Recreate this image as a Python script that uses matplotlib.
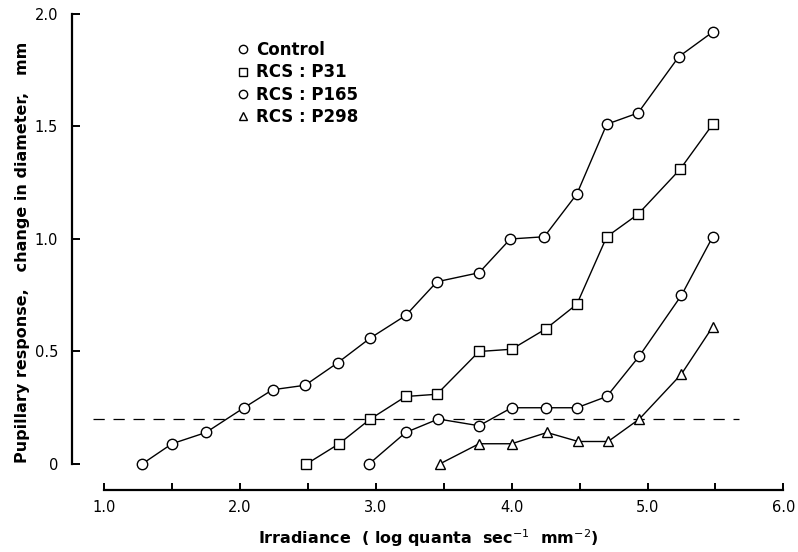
import numpy as np
import matplotlib
matplotlib.use('Agg')
import matplotlib.pyplot as plt

# irradiance (log quanta) and change in pupil diameter (mm)
control_x = [1.28, 1.50, 1.75, 2.03, 2.24, 2.48, 2.72, 2.96, 3.22, 3.45, 3.76, 3.99, 4.24, 4.48, 4.70, 4.93, 5.23, 5.48]
control_y = [0.00, 0.09, 0.14, 0.25, 0.33, 0.35, 0.45, 0.56, 0.66, 0.81, 0.85, 1.00, 1.01, 1.20, 1.51, 1.56, 1.81, 1.92]

p31_x = [2.49, 2.73, 2.96, 3.22, 3.45, 3.76, 4.00, 4.25, 4.48, 4.70, 4.93, 5.24, 5.48]
p31_y = [0.00, 0.09, 0.20, 0.30, 0.31, 0.50, 0.51, 0.60, 0.71, 1.01, 1.11, 1.31, 1.51]

p165_x = [2.95, 3.22, 3.46, 3.76, 4.00, 4.25, 4.48, 4.70, 4.94, 5.25, 5.48]
p165_y = [0.00, 0.14, 0.20, 0.17, 0.25, 0.25, 0.25, 0.30, 0.48, 0.75, 1.01]

p298_x = [3.47, 3.76, 4.00, 4.26, 4.49, 4.71, 4.94, 5.25, 5.48]
p298_y = [0.00, 0.09, 0.09, 0.14, 0.10, 0.10, 0.20, 0.40, 0.61]

threshold = 0.2
threshold_span = [0.92, 5.67]

x_ticks = [1.0, 1.5, 2.0, 2.5, 3.0, 3.5, 4.0, 4.5, 5.0, 5.5, 6.0]
x_labels = ['1.0', '', '2.0', '', '3.0', '', '4.0', '', '5.0', '', '6.0']
y_ticks = [0, 0.5, 1.0, 1.5, 2.0]
y_labels = ['0', '0.5', '1.0', '1.5', '2.0']

plt.rcParams['font.family'] = ['DejaVu Sans']

fig = plt.figure(figsize=(7.98, 5.52), dpi=100)
ax = fig.add_axes([0.0902, 0.1123, 0.900, 0.8705])

mk = dict(color='black', lw=1.0, mfc='white', mec='black', mew=1.0, ms=7.5, clip_on=False)
ax.plot(control_x, control_y, marker='o', label='Control', **mk)
ax.plot(p31_x, p31_y, marker='s', label='RCS : P31', **{**mk, 'ms': 7})
ax.plot(p165_x, p165_y, marker='o', label='RCS : P165', **mk)
ax.plot(p298_x, p298_y, marker='^', label='RCS : P298', **mk)

# response criterion
ax.plot(threshold_span, [threshold, threshold], color='black', lw=0.9,
        ls=(0, (9, 7)), zorder=0)

ax.set_xlim(0.764, 6.05)
ax.set_ylim(-0.1156, 2.02)

for s in ['top', 'right']:
    ax.spines[s].set_visible(False)
ax.spines['left'].set_bounds(0, 2.0)
ax.spines['bottom'].set_bounds(1.0, 6.0)
ax.spines['left'].set_linewidth(1.6)
ax.spines['bottom'].set_linewidth(1.6)

ax.set_xticks(x_ticks)
ax.set_xticklabels(x_labels)
ax.set_yticks(y_ticks)
ax.set_yticklabels(y_labels)
ax.tick_params(axis='x', direction='in', length=5, width=1.4, labelsize=10.5, pad=7)
ax.tick_params(axis='y', direction='in', length=6, width=1.4, labelsize=10.5, pad=10)

ax.set_xlabel('Irradiance  ( log quanta  sec$^{-1}$  mm$^{-2}$)',
              fontsize=11.5, fontweight='bold')
ax.set_ylabel('Pupillary response,   change in diameter,   mm',
              fontsize=11.5, fontweight='bold')
ax.yaxis.set_label_coords(-0.058, 0.495)
ax.xaxis.set_label_coords(0.496, -0.078)

leg = ax.legend(loc='upper left', bbox_to_anchor=(0.21, 0.965), frameon=False,
                handlelength=0.6, handletextpad=0.5, labelspacing=0.25,
                prop=dict(size=12, weight='bold'), markerscale=0.8)
for h in leg.legend_handles:
    h.set_linestyle('none')

fig.savefig('out.png', dpi=100)
